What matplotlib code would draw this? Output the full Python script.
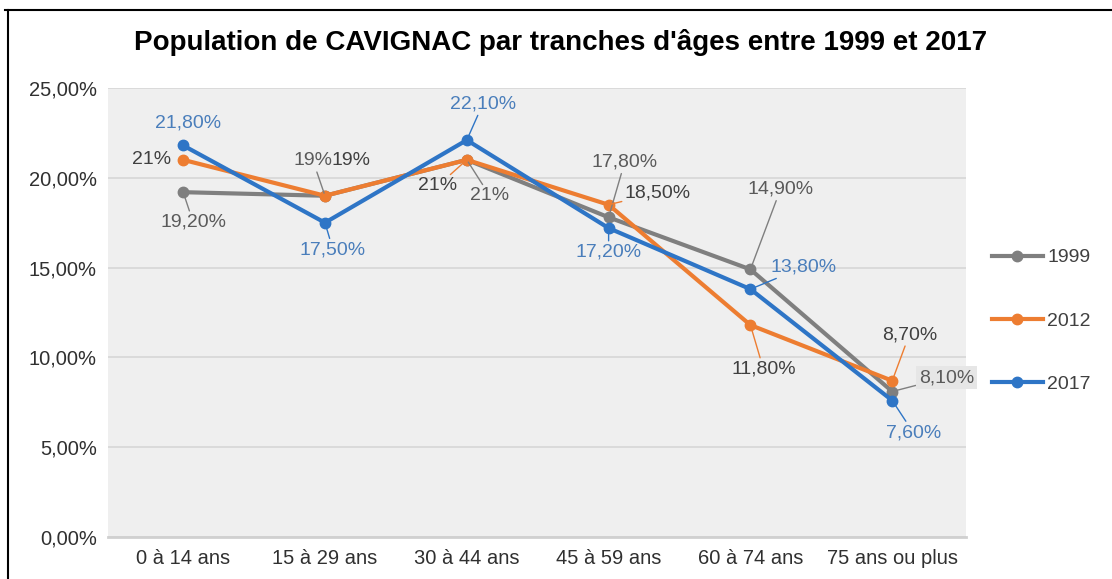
import matplotlib
matplotlib.use("Agg")
import matplotlib.pyplot as plt
from matplotlib.lines import Line2D
from matplotlib.ticker import FuncFormatter

# ---- data ----
categories = ["0 à 14 ans", "15 à 29 ans", "30 à 44 ans", "45 à 59 ans", "60 à 74 ans", "75 ans ou plus"]
years = ["1999", "2012", "2017"]
values_1999 = [19.2, 19.0, 21.0, 17.8, 14.9, 8.1]
values_2012 = [21.0, 19.0, 21.0, 18.5, 11.8, 8.7]
values_2017 = [21.8, 17.5, 22.1, 17.2, 13.8, 7.6]
yticks = [0, 5, 10, 15, 20, 25]

# ---- styles / layout ----
colors = {"1999": "#7f7f7f", "2012": "#ed7d31", "2017": "#2e75c6"}
text_colors = {"1999": "#5a5a5a", "2012": "#404040", "2017": "#4a7ebb"}
# label offsets in pixels (dx, dy) and whether a leader line is drawn
label_layout = {
    "1999": [(10, -30, True), (-12, 35, True), (23, -36, True), (16, 55, True), (30, 80, True), (54, 14, True)],
    "2012": [(-32, 0, False), (26, 35, False), (-29, -26, True), (49, 12, True), (13, -44, True), (17, 46, True)],
    "2017": [(5, 22, False), (8, -27, True), (16, 36, True), (0, -24, True), (53, 22, True), (21, -32, True)],
}

plt.rcParams["font.family"] = ["Liberation Sans", "DejaVu Sans"]

W, H = 1112, 579
fig = plt.figure(figsize=(W / 100, H / 100), dpi=100)
fig.patch.set_facecolor("white")

ax = fig.add_axes([108 / W, (579 - 537) / H, (966 - 108) / W, (537 - 88) / H])
ax.set_facecolor("#efefef")

series = {"1999": values_1999, "2012": values_2012, "2017": values_2017}
x = list(range(len(categories)))


def fmt(v):
    if abs(v - round(v)) < 1e-9:
        return f"{int(round(v))}%"
    return f"{v:.2f}%".replace(".", ",")


for yr in years:
    ax.plot(x, series[yr], color=colors[yr], lw=3, marker="o", markersize=7.5,
            solid_capstyle="round", label=yr, zorder=3, clip_on=False)

for yr in years:
    for i, v in enumerate(series[yr]):
        dx, dy, leader = label_layout[yr][i]
        kw = {}
        if leader:
            kw["arrowprops"] = dict(arrowstyle="-", color=colors[yr], lw=1.0,
                                    shrinkA=0, shrinkB=2)
        if yr == "1999" and i == 5:
            kw["bbox"] = dict(boxstyle="square,pad=0.15", fc="#e6e6e6", ec="none")
        ax.annotate(fmt(v), xy=(i, v), xytext=(dx, dy), textcoords="offset pixels",
                    ha="center", va="center", fontsize=14, color=text_colors[yr],
                    zorder=5, annotation_clip=False, **kw)

ax.set_xlim(-0.53, 5.52)
ax.set_ylim(0, 25)
ax.set_yticks(yticks)
ax.yaxis.set_major_formatter(FuncFormatter(lambda v, p: f"{v:.2f}%".replace(".", ",")))
ax.set_xticks(x)
ax.set_xticklabels(categories)
ax.grid(axis="y", color="#d6d6d6", lw=1.2)
ax.set_axisbelow(True)
for s in ["top", "right", "left"]:
    ax.spines[s].set_visible(False)
ax.spines["bottom"].set_color("#d0d0d0")
ax.spines["bottom"].set_linewidth(2)
ax.tick_params(axis="both", length=0, labelsize=14.5, colors="#303030")
ax.tick_params(axis="y", pad=8)
ax.tick_params(axis="x", pad=9)

# title
fig.text(561 / W, 1 - 43 / H, "Population de CAVIGNAC par tranches d'âges entre 1999 et 2017",
         ha="center", va="center", fontsize=20, fontweight="bold", color="black")

# legend
handles = [Line2D([0], [0], color=colors[yr], lw=3, marker="o", markersize=7.5) for yr in years]
leg = fig.legend(handles, years, loc="center left", bbox_to_anchor=(992 / W, 1 - 321 / H),
                 frameon=False, fontsize=14, handlelength=2.6, handletextpad=0.25,
                 labelspacing=2.35, borderpad=0, borderaxespad=0)
for t in leg.get_texts():
    t.set_color("#404040")

# outer frame (left and top border)
fig.add_artist(Line2D([8 / W, 8 / W], [0, 1 - 10 / H], color="black", lw=1.5))
fig.add_artist(Line2D([5 / W, 1], [1 - 10 / H, 1 - 10 / H], color="black", lw=1.5))

fig.savefig("out.png", dpi=100, facecolor="white")
